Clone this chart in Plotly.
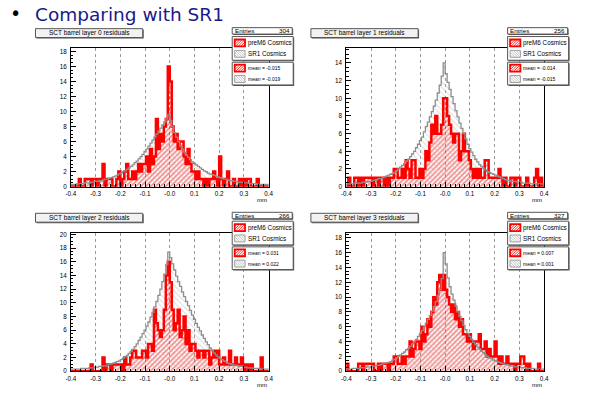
import plotly.graph_objects as go

W, H = 610, 394
X_MIN, X_MAX, N_BINS = -0.4, 0.4, 100
FONT = "Liberation Sans, Arial, sans-serif"
RED = "#ff0000"
GREY_LINE = "#8e8e8e"
GREY_HATCH = "#b4b4b4"

page_title = "Comparing with SR1"
titles = ["SCT barrel layer 0 residuals", "SCT barrel layer 1 residuals",
          "SCT barrel layer 2 residuals", "SCT barrel layer 3 residuals"]
entries = [304, 256, 266, 327]
mean_pre = ["-0.015", "-0.014", "0.031", "0.007"]
mean_sr1 = ["-0.019", "-0.015", "0.022", "0.001"]
legend_names = ["preM6 Cosmics", "SR1 Cosmics"]
y_tops = [18.4, 15.65, 20.2, 18.65]
x_tick_vals = [-0.4, -0.3, -0.2, -0.1, 0.0, 0.1, 0.2, 0.3, 0.4]
x_tick_text = ["-0.4", "-0.3", "-0.2", "-0.1", "-0.0", "0.1", "0.2", "0.3", "0.4"]
x_title = "mm"

# ---- layer 0 ----
pre_l0 = [0, 0, 0, 0, 1, 0, 0, 1, 1, 1,
          0, 1, 1, 0, 1, 1, 3, 0, 1, 1,
          1, 0, 0, 1, 2, 0, 1, 2, 3, 1,
          1, 2, 1, 2, 3, 2, 3, 3, 4, 2,
          5, 3, 4, 9, 5, 7, 6, 8, 9, 16,
          14, 8, 6, 7, 5, 6, 6, 4, 3, 5,
          3, 2, 2, 1, 2, 1, 1, 0, 1, 0,
          1, 1, 2, 1, 0, 4, 1, 0, 1, 2,
          0, 0, 1, 0, 0, 1, 0, 1, 0, 1,
          1, 0, 0, 0, 1, 0, 0, 0, 0, 0]
sr1_l0 = [0.3, 0.3, 0.3, 0.4, 0.4, 0.4, 0.4, 0.5, 0.5, 0.5,
          0.6, 0.6, 0.7, 0.7, 0.8, 0.8, 0.9, 1.0, 1.0, 1.1,
          1.2, 1.3, 1.4, 1.5, 1.7, 1.8, 2.0, 2.1, 2.3, 2.5,
          2.7, 2.9, 3.2, 3.4, 3.7, 4.0, 4.3, 4.7, 5.0, 5.4,
          5.8, 6.2, 6.6, 7.0, 7.4, 7.8, 8.2, 8.6, 9.0, 9.6,
          8.8, 8.0, 7.2, 6.6, 6.0, 5.4, 5.0, 4.6, 4.2, 3.9,
          3.6, 3.3, 3.1, 2.9, 2.7, 2.5, 2.3, 2.1, 2.0, 1.8,
          1.7, 1.6, 1.5, 1.4, 1.3, 1.2, 1.1, 1.0, 1.0, 0.9,
          0.8, 0.8, 0.7, 0.7, 0.6, 0.6, 0.6, 0.5, 0.5, 0.5,
          0.4, 0.4, 0.4, 0.4, 0.3, 0.3, 0.3, 0.3, 0.3, 0.3]

# ---- layer 1 ----
pre_l1 = [0, 1, 0, 0, 1, 1, 0, 1, 0, 1,
          1, 1, 1, 0, 1, 1, 0, 1, 1, 0,
          1, 0, 1, 1, 2, 2, 1, 1, 2, 1,
          3, 2, 1, 3, 3, 1, 1, 2, 1, 2,
          4, 3, 5, 7, 6, 8, 6, 6, 7, 10,
          10, 8, 7, 6, 5, 6, 6, 3, 4, 6,
          4, 4, 3, 2, 1, 2, 1, 2, 1, 1,
          3, 3, 1, 1, 1, 1, 1, 2, 1, 0,
          1, 0, 0, 1, 1, 0, 1, 1, 0, 0,
          0, 1, 0, 0, 0, 1, 2, 0, 1, 0]
sr1_l1 = [0.3, 0.3, 0.3, 0.3, 0.4, 0.4, 0.4, 0.4, 0.5, 0.5,
          0.5, 0.6, 0.6, 0.7, 0.7, 0.8, 0.9, 0.9, 1.0, 1.1,
          1.2, 1.3, 1.4, 1.5, 1.6, 1.8, 2.0, 2.2, 2.4, 2.6,
          2.9, 3.1, 3.4, 3.7, 4.0, 4.4, 4.8, 5.2, 5.6, 6.2,
          6.8, 7.3, 7.9, 8.5, 9.1, 9.8, 10.6, 11.5, 12.5, 14.0,
          12.8, 11.8, 11.0, 10.2, 9.4, 8.6, 7.9, 7.2, 6.6, 6.0,
          5.4, 4.8, 4.3, 3.9, 3.5, 3.1, 2.8, 2.5, 2.3, 2.1,
          1.9, 1.7, 1.6, 1.5, 1.4, 1.3, 1.2, 1.1, 1.0, 0.9,
          0.8, 0.7, 0.7, 0.6, 0.6, 0.6, 0.5, 0.5, 0.5, 0.4,
          0.4, 0.4, 0.4, 0.3, 0.3, 0.3, 0.3, 0.3, 0.3, 0.3]

# ---- layer 2 ----
pre_l2 = [0, 0, 0, 0, 0, 0, 0, 0, 0, 0,
          1, 0, 0, 0, 0, 0, 2, 0, 1, 1,
          0, 1, 1, 1, 1, 1, 0, 2, 1, 1,
          2, 3, 3, 2, 2, 2, 3, 3, 2, 4,
          4, 3, 9, 7, 6, 5, 6, 9, 14, 16,
          13, 9, 6, 7, 9, 5, 6, 8, 4, 6,
          3, 4, 4, 3, 2, 3, 3, 2, 3, 3,
          1, 2, 3, 2, 3, 1, 1, 2, 1, 1,
          3, 1, 1, 2, 1, 1, 2, 1, 0, 1,
          0, 1, 0, 0, 0, 0, 2, 0, 0, 0]
sr1_l2 = [0.3, 0.3, 0.3, 0.3, 0.3, 0.4, 0.4, 0.4, 0.4, 0.5,
          0.5, 0.5, 0.6, 0.6, 0.7, 0.7, 0.8, 0.8, 0.9, 1.0,
          1.1, 1.2, 1.3, 1.4, 1.5, 1.7, 1.9, 2.1, 2.3, 2.6,
          2.9, 3.2, 3.6, 4.0, 4.5, 5.0, 5.5, 6.0, 6.6, 7.2,
          7.9, 8.6, 9.4, 10.2, 11.1, 12.0, 13.1, 14.2, 15.6, 17.4,
          16.6, 15.7, 14.8, 13.9, 13.1, 12.4, 11.6, 10.9, 10.2, 9.6,
          8.9, 8.2, 7.6, 7.0, 6.4, 5.9, 5.3, 4.8, 4.3, 3.9,
          3.4, 3.0, 2.7, 2.4, 2.1, 1.9, 1.7, 1.5, 1.4, 1.2,
          1.1, 1.0, 0.9, 0.9, 0.8, 0.7, 0.7, 0.6, 0.6, 0.5,
          0.5, 0.5, 0.4, 0.4, 0.4, 0.4, 0.3, 0.3, 0.3, 0.3]

# ---- layer 3 ----
pre_l3 = [1, 0, 0, 0, 0, 0, 1, 1, 0, 1,
          1, 1, 1, 1, 0, 0, 1, 0, 1, 1,
          1, 0, 1, 1, 2, 2, 1, 1, 2, 1,
          2, 2, 4, 2, 3, 4, 4, 3, 6, 4,
          5, 7, 6, 8, 10, 9, 12, 13, 11, 13,
          11, 10, 9, 8, 9, 7, 8, 6, 7, 5,
          5, 4, 5, 4, 3, 4, 4, 5, 3, 3,
          4, 2, 3, 2, 2, 4, 2, 1, 2, 1,
          1, 2, 1, 1, 1, 0, 1, 1, 2, 2,
          1, 0, 1, 0, 0, 0, 0, 1, 0, 0]
sr1_l3 = [0.3, 0.3, 0.3, 0.4, 0.4, 0.4, 0.4, 0.5, 0.5, 0.5,
          0.6, 0.6, 0.6, 0.7, 0.7, 0.8, 0.8, 0.9, 1.0, 1.1,
          1.1, 1.2, 1.3, 1.5, 1.6, 1.8, 2.0, 2.2, 2.4, 2.6,
          2.9, 3.1, 3.4, 3.7, 4.0, 4.3, 4.7, 5.1, 5.5, 6.0,
          6.5, 7.0, 7.5, 8.1, 8.7, 9.4, 10.2, 11.0, 12.5, 16.0,
          14.5, 12.6, 11.4, 10.4, 9.6, 8.8, 8.0, 7.4, 6.8, 6.2,
          5.6, 5.1, 4.7, 4.3, 3.9, 3.6, 3.3, 3.0, 2.7, 2.5,
          2.2, 2.0, 1.8, 1.7, 1.5, 1.4, 1.3, 1.2, 1.1, 1.0,
          0.9, 0.9, 0.8, 0.7, 0.7, 0.6, 0.6, 0.6, 0.5, 0.5,
          0.5, 0.4, 0.4, 0.4, 0.4, 0.3, 0.3, 0.3, 0.3, 0.3]

pre_series = [pre_l0, pre_l1, pre_l2, pre_l3]
sr1_series = [sr1_l0, sr1_l1, sr1_l2, sr1_l3]

# ---------------- layout geometry (screen pixels) ----------------
FRAME = (67, 47, 268, 187)          # top-left panel plot frame
OFFSETS = [(0, 0), (280, 0), (0, 187), (280, 187)]
TITLE_BOX = (31, 27, 140, 36)
ENTRIES_BOX = (231, 26, 292, 32.5)
LEGEND_BOX = (231, 35, 293, 59)
MEAN_BOX = (231, 61, 293, 84)

bw = (X_MAX - X_MIN) / N_BINS
centers = [X_MIN + bw * (i + 0.5) for i in range(N_BINS)]
edges = [X_MIN + bw * i for i in range(N_BINS + 1)]


def P(px, py):
    return px / W, 1 - py / H


def rect(x0, y0, x1, y1, line_color=None, fill="white", lw=1):
    a, b = P(x0, y1)
    c, d = P(x1, y0)
    return dict(type="rect", xref="paper", yref="paper", x0=a, y0=b, x1=c, y1=d,
                line=dict(color=line_color or "rgba(0,0,0,0)", width=lw if line_color else 0),
                fillcolor=fill, layer="above")


def hatch(x0, y0, x1, y1, direction, color, step=2.6, lw=0.8):
    w, h = x1 - x0, y1 - y0
    segs = []
    c = -h
    while c < w:
        tmin, tmax = max(0, -c), min(h, w - c)
        if tmax > tmin:
            if direction == "/":
                pa, pb = P(x0 + c + tmin, y1 - tmin), P(x0 + c + tmax, y1 - tmax)
            else:
                pa, pb = P(x0 + c + tmin, y0 + tmin), P(x0 + c + tmax, y0 + tmax)
            segs.append(f"M{pa[0]:.5f},{pa[1]:.5f}L{pb[0]:.5f},{pb[1]:.5f}")
        c += step
    return dict(type="path", xref="paper", yref="paper", path="".join(segs),
                line=dict(color=color, width=lw), layer="above")


def text(px, py, s, size, color="black", anchor="left", family=FONT):
    x, y = P(px, py)
    return dict(x=x, y=y, xref="paper", yref="paper", text=s, showarrow=False,
                xanchor=anchor, yanchor="middle", borderpad=0,
                font=dict(size=size, color=color, family=family))


def sh(box, dx, dy):
    return (box[0] + dx, box[1] + dy, box[2] + dx, box[3] + dy)


fig = go.Figure()
shapes, annotations = [], []

for k in range(4):
    dx, dy = OFFSETS[k]
    sfx = "" if k == 0 else str(k + 1)
    xa, ya = "x" + sfx, "y" + sfx
    pre, sr1 = pre_series[k], sr1_series[k]

    fig.add_trace(go.Bar(
        x=centers, y=pre, width=bw, xaxis=xa, yaxis=ya, showlegend=False, hoverinfo="skip",
        marker=dict(color="rgba(0,0,0,0)", line=dict(width=0),
                    pattern=dict(shape="/", fgcolor=RED, bgcolor="rgba(0,0,0,0)",
                                 size=3.5, solidity=0.45, fillmode="overlay"))))
    fig.add_trace(go.Bar(
        x=centers, y=sr1, width=bw, xaxis=xa, yaxis=ya, showlegend=False, hoverinfo="skip",
        marker=dict(color="rgba(0,0,0,0)", line=dict(width=0),
                    pattern=dict(shape="\\", fgcolor=GREY_HATCH, bgcolor="rgba(0,0,0,0)",
                                 size=4, solidity=0.25, fillmode="overlay"))))
    fig.add_trace(go.Scatter(
        x=[X_MIN] + edges + [X_MAX], y=[0] + pre + [pre[-1], 0], mode="lines",
        line=dict(shape="hv", color=RED, width=2.5), xaxis=xa, yaxis=ya,
        showlegend=False, hoverinfo="skip"))
    fig.add_trace(go.Scatter(
        x=[X_MIN] + edges + [X_MAX], y=[0] + sr1 + [sr1[-1], 0], mode="lines",
        line=dict(shape="hv", color=GREY_LINE, width=1.3), xaxis=xa, yaxis=ya,
        showlegend=False, hoverinfo="skip"))

    fx0, fy0 = P(FRAME[0] + dx, FRAME[3] + dy)
    fx1, fy1 = P(FRAME[2] + dx, FRAME[1] + dy)
    fig.layout["xaxis" + sfx] = dict(
        domain=[fx0, fx1], anchor=ya, range=[X_MIN, X_MAX],
        tickmode="array", tickvals=x_tick_vals, ticktext=x_tick_text,
        ticks="inside", ticklen=5, tickcolor="black", tickwidth=1,
        minor=dict(ticks="inside", ticklen=2.5, dtick=0.02, tick0=X_MIN,
                   tickcolor="black", showgrid=False),
        showgrid=True, gridcolor="#9a9a9a", griddash="dot", gridwidth=1,
        showline=True, linecolor="black", linewidth=1, mirror=True, zeroline=False,
        tickfont=dict(size=6.3, family=FONT, color="black"), ticklabelstandoff=1)
    fig.layout["yaxis" + sfx] = dict(
        domain=[fy0, fy1], anchor=xa, range=[0, y_tops[k]],
        tickmode="linear", tick0=0, dtick=2,
        ticks="inside", ticklen=5, tickcolor="black", tickwidth=1,
        minor=dict(ticks="inside", ticklen=2.5, dtick=0.5, tickcolor="black", showgrid=False),
        showgrid=False, showline=True, linecolor="black", linewidth=1, mirror=True,
        zeroline=False, tickfont=dict(size=6.3, family=FONT, color="black"),
        ticklabelstandoff=2)

    # title box
    tb = sh(TITLE_BOX, dx, dy)
    shapes.append(rect(tb[0] + 1, tb[1] + 1, tb[2] + 1, tb[3] + 1, None, "#555555"))
    shapes.append(rect(*tb, "#555555", "#f2f2f2"))
    annotations.append(text((tb[0] + tb[2]) / 2, (tb[1] + tb[3]) / 2, titles[k], 6.5, anchor="center"))

    # entries box
    eb = sh(ENTRIES_BOX, dx, dy)
    shapes.append(rect(eb[0] + 1, eb[1] + 1, eb[2] + 1, eb[3] + 1, None, "#555555"))
    shapes.append(rect(*eb, "#555555", "white"))
    annotations.append(text(eb[0] + 1.5, (eb[1] + eb[3]) / 2, "Entries", 6.2))
    annotations.append(text(eb[2] - 1.5, (eb[1] + eb[3]) / 2, str(entries[k]), 6.2, anchor="right"))

    # legend box and mean box
    lb = sh(LEGEND_BOX, dx, dy)
    shapes.append(rect(lb[0] + 1, lb[1] + 1, lb[2] + 1, lb[3] + 1, None, "#555555"))
    shapes.append(rect(*lb, "#555555", "white"))
    mb = sh(MEAN_BOX, dx, dy)
    shapes.append(rect(mb[0] + 1, mb[1] + 1, mb[2] + 1, mb[3] + 1, None, "#555555"))
    shapes.append(rect(*mb, "#555555", "white"))

    for box, labels, size, yoffs in (
            (lb, legend_names, 6.3, (6.5, 17.5)),
            (mb, ["mean = " + mean_pre[k], "mean = " + mean_sr1[k]], 5.0, (6.0, 17.0))):
        for j in range(2):
            cy = box[1] + yoffs[j]
            ix0, iy0, ix1, iy1 = box[0] + 2.5, cy - 3.5, box[0] + 13, cy + 3.5
            if j == 0:
                shapes.append(hatch(ix0, iy0, ix1, iy1, "/", RED))
                shapes.append(rect(ix0, iy0, ix1, iy1, RED, "rgba(0,0,0,0)", 1.8))
            else:
                shapes.append(hatch(ix0, iy0, ix1, iy1, "\\", GREY_HATCH))
                shapes.append(rect(ix0, iy0, ix1, iy1, "#a0a0a0", "rgba(0,0,0,0)", 1))
            annotations.append(text(ix1 + 2, cy, labels[j], size))

    # axis title
    annotations.append(text(FRAME[2] + dx - 7, FRAME[3] + dy + 13.5, x_title, 6.0, anchor="center"))

# page title
annotations.append(text(10.5, 11.5, "\u2022", 19, color="black", anchor="center", family="DejaVu Sans"))
annotations.append(text(29, 12.5, page_title, 18.5, color="#1a1a88", family="DejaVu Sans"))

fig.update_layout(
    width=W, height=H, margin=dict(l=0, r=0, t=0, b=0, pad=0),
    paper_bgcolor="white", plot_bgcolor="white",
    barmode="overlay", bargap=0, showlegend=False, hovermode=False,
    shapes=shapes, annotations=annotations)

# remove the default 8px page margin so the figure fills the 610x394 window exactly
fig.write_html("out.html", config={"displayModeBar": False, "staticPlot": True},
               post_script="document.body.style.margin='0';")
